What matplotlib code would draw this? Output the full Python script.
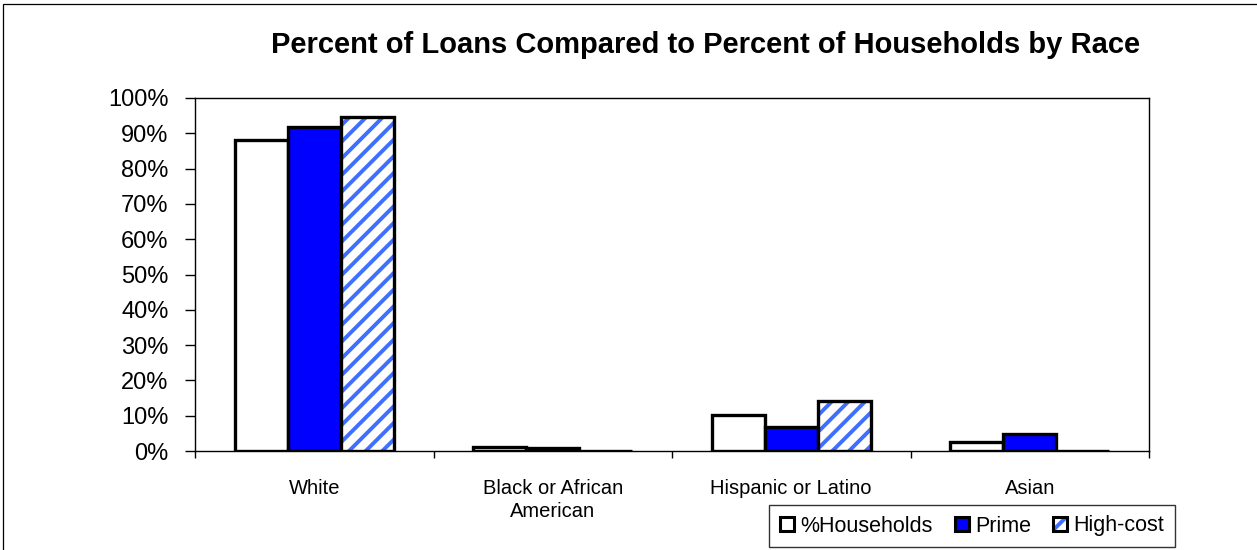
import matplotlib
matplotlib.use("Agg")
import matplotlib.pyplot as plt
import numpy as np
from matplotlib.patches import Rectangle, Patch

categories = ["White", "Black or African\nAmerican", "Hispanic or Latino", "Asian"]
households = [88.0, 1.2, 10.2, 2.6]
prime = [91.9, 0.85, 6.9, 4.8]
high_cost = [94.7, 0.1, 14.2, 0.0]
series_names = ["%Households", "Prime", "High-cost"]
yticks = [0, 10, 20, 30, 40, 50, 60, 70, 80, 90, 100]
title = "Percent of Loans Compared to Percent of Households by Race"

plt.rcParams["font.family"] = ["Liberation Sans", "DejaVu Sans"]
plt.rcParams["hatch.linewidth"] = 2.8

W, H = 1257, 550
fig = plt.figure(figsize=(W / 100, H / 100), dpi=100)
ax = fig.add_axes([195 / W, 1 - 451 / H, (1149 - 195) / W, (451 - 98) / H])

x = np.arange(len(categories))
bw = 159 / 238.5 / 3
edge_lw = 2.4
hatch_blue = "#3F6FFF"

ax.bar(x - bw, households, bw, color="white", edgecolor="black", linewidth=edge_lw, zorder=3)
ax.bar(x, prime, bw, color="#0000FF", edgecolor="black", linewidth=edge_lw, zorder=3)
ax.bar(x + bw, high_cost, bw, color="white", edgecolor=hatch_blue, hatch="//", linewidth=0, zorder=3)
ax.bar(x + bw, high_cost, bw, fill=False, edgecolor="black", linewidth=edge_lw, zorder=4)

ax.set_xlim(-0.5, len(categories) - 0.5)
ax.set_ylim(0, 100)
ax.set_yticks(yticks)
ax.set_yticklabels([f"{v}%" for v in yticks], fontsize=17)
ax.tick_params(axis="y", direction="out", length=7, width=1, pad=12)

ax.set_xticks(x)
ax.set_xticklabels(categories, fontsize=14.5, linespacing=1.3)
ax.tick_params(axis="x", which="major", length=0, pad=20)
ax.set_xticks(np.arange(len(categories) + 1) - 0.5, minor=True)
ax.tick_params(axis="x", which="minor", direction="out", length=5, width=1)

for s in ax.spines.values():
    s.set_linewidth(1.0)
    s.set_color("black")

fig.text(706 / W, 1 - 45 / H, title, ha="center", va="center", fontsize=21, fontweight="bold")

# figure border (only top and left edges visible)
fig.add_artist(Rectangle((3 / W, -0.5), 2.0, 1.5 - 4 / H, transform=fig.transFigure,
                         fill=False, edgecolor="black", linewidth=0.9))

h_house = Patch(facecolor="white", edgecolor="black", linewidth=2.2)
h_prime = Patch(facecolor="#0000FF", edgecolor="black", linewidth=2.2)
h_hatch = Patch(facecolor="white", edgecolor=hatch_blue, hatch="//", linewidth=0)
h_outline = Patch(fill=False, edgecolor="black", linewidth=2.2)
handles = [h_house, h_prime, (h_hatch, h_outline)]
leg = fig.legend(handles, series_names, loc="center", bbox_to_anchor=(972 / W, 1 - 526 / H),
                 ncol=3, fontsize=15.5, frameon=True, fancybox=False, edgecolor="black",
                 handlelength=0.65, handleheight=0.65, handletextpad=0.3, columnspacing=1.0,
                 borderpad=0.5)
leg.get_frame().set_linewidth(1.0)

fig.savefig("out.png", dpi=100)
